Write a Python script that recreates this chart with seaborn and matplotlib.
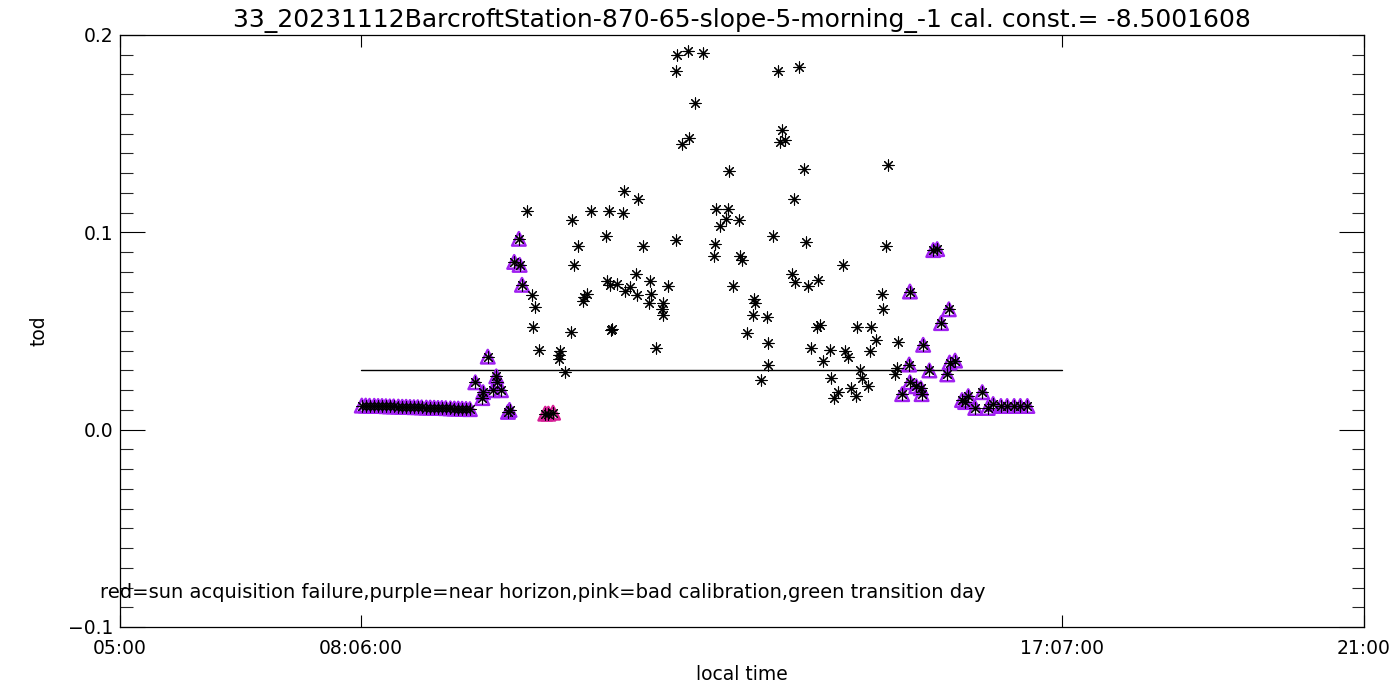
import numpy as np
import pandas as pd
import matplotlib
matplotlib.use("Agg")
import matplotlib.pyplot as plt
import seaborn as sns
from matplotlib.ticker import MultipleLocator, FixedLocator

# ---------------- data (local time in decimal hours, tod) ----------------
horizon_morning_time = [8.11, 8.16, 8.21, 8.27, 8.32, 8.37, 8.42, 8.47, 8.52, 8.58,
                        8.63, 8.68, 8.73, 8.78, 8.83, 8.88, 8.94, 8.99, 9.04, 9.09,
                        9.14, 9.19, 9.25, 9.30, 9.35, 9.40, 9.45, 9.50,
                        9.57, 9.66, 9.67, 9.73, 9.80, 9.84, 9.85, 9.90, 9.99, 10.01,
                        10.07, 10.13, 10.14, 10.17]
horizon_morning_tod = [0.0122, 0.0122, 0.0121, 0.0121, 0.0120, 0.0120, 0.0119, 0.0118, 0.0118, 0.0117,
                       0.0116, 0.0116, 0.0115, 0.0114, 0.0114, 0.0113, 0.0112, 0.0112, 0.0111, 0.0110,
                       0.0110, 0.0109, 0.0108, 0.0107, 0.0107, 0.0106, 0.0105, 0.0104,
                       0.024, 0.016, 0.019, 0.037, 0.020, 0.027, 0.024, 0.020, 0.009, 0.010,
                       0.085, 0.0967, 0.0835, 0.0734]

badcal_time = [10.47, 10.51, 10.57]
badcal_tod = [0.0081, 0.0081, 0.0086]

good_time = [10.23, 10.30, 10.34, 10.31, 10.39, 10.65, 10.66, 10.65, 10.72, 10.80,
             10.81, 10.84, 10.89, 10.97, 10.96, 11.01, 11.06, 11.25, 11.26, 11.29,
             11.30, 11.31, 11.33, 11.39, 11.47, 11.48, 11.50, 11.56, 11.64, 11.65,
             11.66, 11.73, 11.80, 11.82, 11.83, 11.89, 11.97, 11.98, 11.99, 12.05,
             12.15, 12.15, 12.16, 12.23, 12.31, 12.32, 12.40, 12.50, 12.64, 12.65,
             12.66, 12.72, 12.79, 12.82, 12.83, 12.88, 12.96, 12.97, 13.00, 13.06,
             13.14, 13.15, 13.17, 13.24, 13.32, 13.33, 13.34, 13.40, 13.46, 13.49,
             13.51, 13.55, 13.64, 13.67, 13.68, 13.73, 13.80, 13.82, 13.85, 13.89,
             13.98, 13.97, 14.00, 14.04, 14.13, 14.14, 14.18, 14.23, 14.30, 14.32,
             14.36, 14.40, 14.47, 14.48, 14.52, 14.54, 14.62, 14.65, 14.66, 14.72,
             14.80, 14.81, 14.85, 14.88, 14.97, 14.99, 15.01]
good_tod = [0.111, 0.068, 0.062, 0.052, 0.0405, 0.038, 0.040, 0.036, 0.029, 0.0496,
            0.106, 0.0835, 0.093, 0.067, 0.065, 0.069, 0.111, 0.098, 0.0755, 0.111,
            0.0734, 0.0506, 0.051, 0.074, 0.110, 0.121, 0.0704, 0.0724, 0.079, 0.068,
            0.117, 0.093, 0.064, 0.0755, 0.069, 0.0415, 0.061, 0.064, 0.058, 0.073,
            0.096, 0.182, 0.190, 0.145, 0.192, 0.148, 0.1655, 0.191, 0.088, 0.094,
            0.112, 0.103, 0.107, 0.112, 0.131, 0.073, 0.106, 0.088, 0.086, 0.049,
            0.058, 0.066, 0.064, 0.025, 0.057, 0.044, 0.033, 0.098, 0.182, 0.146,
            0.152, 0.147, 0.079, 0.117, 0.075, 0.184, 0.132, 0.095, 0.073, 0.0415,
            0.076, 0.052, 0.053, 0.035, 0.0405, 0.026, 0.016, 0.019, 0.0835, 0.040,
            0.037, 0.021, 0.017, 0.052, 0.030, 0.026, 0.022, 0.040, 0.052, 0.0455,
            0.069, 0.061, 0.093, 0.134, 0.028, 0.031, 0.0445]

horizon_evening_time = [15.06, 15.15, 15.16, 15.16, 15.24, 15.30, 15.31, 15.33, 15.41, 15.46,
                        15.51, 15.56, 15.64, 15.66, 15.67, 15.74, 15.83, 15.87, 15.91, 16.00,
                        16.09, 16.16, 16.23, 16.33, 16.41, 16.50, 16.58, 16.67]
horizon_evening_tod = [0.018, 0.033, 0.070, 0.024, 0.022, 0.021, 0.018, 0.043, 0.030, 0.091,
                       0.0915, 0.054, 0.028, 0.061, 0.034, 0.035, 0.015, 0.014, 0.017, 0.011,
                       0.019, 0.011, 0.013, 0.012, 0.012, 0.012, 0.012, 0.012]

line_start, line_end = 8.1, 17.1167   # 08:06:00 .. 17:07:00
line_level = 0.03

xtick_pos = [5.0, 8.1, 17.1167, 21.0]
xtick_labels = ["05:00", "08:06:00", "17:07:00", "21:00"]
ytick_pos = [-0.1, 0.0, 0.1, 0.2]
ytick_labels = ["\u22120.1", "0.0", "0.1", "0.2"]

title = "33_20231112BarcroftStation-870-65-slope-5-morning_-1 cal. const.= -8.5001608"
note = "red=sun acquisition failure,purple=near horizon,pink=bad calibration,green transition day"

# ---------------- frame ----------------
df_all = pd.DataFrame({
    "time": horizon_morning_time + badcal_time + good_time + horizon_evening_time,
    "tod": horizon_morning_tod + badcal_tod + good_tod + horizon_evening_tod,
    "flag": (["horizon"] * len(horizon_morning_time) + ["badcal"] * len(badcal_time)
             + ["good"] * len(good_time) + ["horizon"] * len(horizon_evening_time)),
})

sns.set_style("white")
plt.rcParams['font.family'] = ['DejaVu Sans']

fig = plt.figure(figsize=(14, 7), dpi=100)
ax = fig.add_axes([0.0857, 0.1043, 0.8886, 0.8457])

PURPLE = "#A020F0"
PINK = "#D41E96"

hz = df_all[df_all.flag == "horizon"]
bc = df_all[df_all.flag == "badcal"]
sns.scatterplot(data=hz, x="time", y="tod", marker="^", s=95, facecolor="none",
                edgecolor=PURPLE, linewidth=1.8, ax=ax, zorder=2, legend=False)
sns.scatterplot(data=bc, x="time", y="tod", marker="^", s=95, facecolor="none",
                edgecolor=PINK, linewidth=1.8, ax=ax, zorder=2, legend=False)
sns.scatterplot(data=df_all, x="time", y="tod", marker=(8, 2, 0), s=64,
                color="black", linewidth=0.8, ax=ax, zorder=3, legend=False)

line_df = pd.DataFrame({"time": [line_start, line_end], "tod": [line_level, line_level]})
sns.lineplot(data=line_df, x="time", y="tod", color="black", linewidth=1.0, ax=ax, zorder=1)

ax.set_xlim(5, 21)
ax.set_ylim(-0.1, 0.2)

ax.xaxis.set_major_locator(FixedLocator(xtick_pos))
ax.set_xticklabels(xtick_labels)
ax.yaxis.set_major_locator(FixedLocator(ytick_pos))
ax.set_yticklabels(ytick_labels)
ax.yaxis.set_minor_locator(MultipleLocator(0.01))

ax.tick_params(axis="x", which="major", direction="in", length=8.6, width=0.8,
               top=True, bottom=True, labelsize=13.5, pad=9, colors="black")
ax.tick_params(axis="y", which="major", direction="in", length=18, width=0.8,
               left=True, right=True, labelsize=13.5, pad=5, colors="black")
ax.tick_params(axis="y", which="minor", direction="in", length=9, width=0.8,
               left=True, right=True)

for sp in ax.spines.values():
    sp.set_visible(True)
    sp.set_color("black")
    sp.set_linewidth(0.9)

ax.set_title(title, fontsize=18, pad=6, color="black")
ax.set_xlabel("local time", fontsize=13.5, labelpad=5, color="black")
ax.set_ylabel("tod", fontsize=13.5, labelpad=14, color="black")

ax.text(4.74, -0.0825, note, fontsize=14, ha="left", va="center", color="black",
        clip_on=False)

fig.savefig("out.png", dpi=100)
